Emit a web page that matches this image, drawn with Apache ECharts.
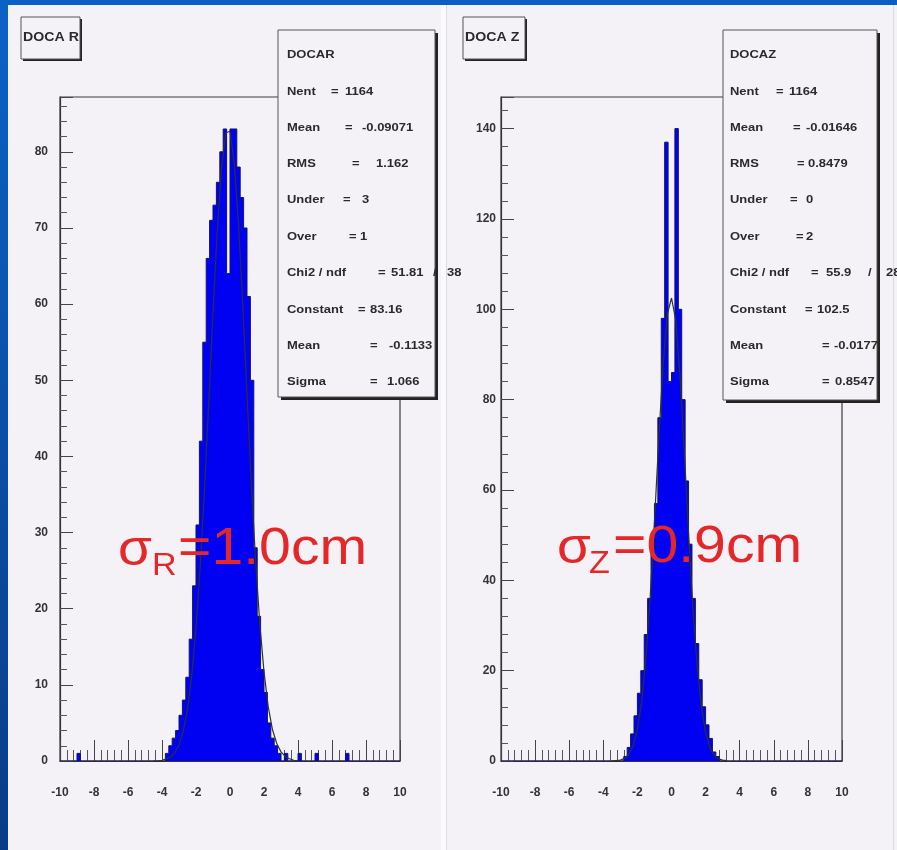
<!DOCTYPE html>
<html><head><meta charset="utf-8">
<script src="https://cdn.jsdelivr.net/npm/echarts@6/dist/echarts.min.js"></script>
<style>html,body{margin:0;padding:0;background:#f4f2f7}#c{width:897px;height:850px}</style>
</head><body><div id="c"></div>
<script>
// ---- DOCA R histogram (bin width 0.2 cm): bin centres and counts
const rCenters = [-8.9,-3.7,-3.5,-3.3,-3.1,-2.9,-2.7,-2.5,-2.3,-2.1,-1.9,-1.7,-1.5,-1.3,-1.1,-0.9,-0.7,-0.5,-0.3,-0.1,0.1,0.3,0.5,0.7,0.9,1.1,1.3,1.5,1.7,1.9,2.1,2.3,2.5,2.7,2.9,3.3,4.1,5.1,6.9];
const rCounts  = [1,1,2,3,4,6,8,11,16,23,31,42,55,66,71,73,76,80,83,64,83,83,78,74,70,61,50,28,19,12,9,5,3,2,1,1,1,1,1];
// ---- DOCA Z histogram
const zCenters = [-2.7,-2.5,-2.3,-2.1,-1.9,-1.7,-1.5,-1.3,-1.1,-0.9,-0.7,-0.5,-0.3,-0.1,0.1,0.3,0.5,0.7,0.9,1.1,1.3,1.5,1.7,1.9,2.1,2.3,2.5,2.7];
const zCounts  = [1,3,6,10,15,20,28,36,46,57,76,98,137,84,86,140,100,80,62,48,36,26,18,12,8,5,2,1];
// ---- fitted gaussian curves
const fitRx = [-4.5,-4.25,-4,-3.75,-3.5,-3.25,-3,-2.75,-2.5,-2.25,-2,-1.75,-1.5,-1.25,-1,-0.75,-0.5,-0.25,0,0.25,0.5,0.75,1,1.25,1.5,1.75,2,2.25,2.5,2.75,3,3.25,3.5,3.75,4];
const fitRy = [0.0,0.0,0.1,0.3,0.5,1.1,2.1,3.9,6.8,11.2,17.4,25.6,35.7,47.1,58.8,69.6,77.9,82.5,82.7,78.5,70.5,59.9,48.2,36.7,26.5,18.1,11.7,7.1,4.1,2.3,1.2,0.6,0.3,0.1,0.0];
const fitZx = [-3.5,-3.25,-3,-2.75,-2.5,-2.25,-2,-1.75,-1.5,-1.25,-1,-0.75,-0.5,-0.25,0,0.25,0.5,0.75,1,1.25,1.5,1.75,2,2.25,2.5,2.75,3,3.25];
const fitZy = [0.0,0.1,0.2,0.6,1.5,3.4,7.0,13.2,22.8,36.3,53.0,71.0,87.4,98.8,102.5,97.6,85.3,68.5,50.5,34.1,21.2,12.1,6.3,3.0,1.3,0.5,0.2,0.1];
// ---- axis ranges / tick steps
const xRange = [-10, 10], xStep = 2;
const rYMax = 87.2, rYStep = 10;
const zYMax = 147, zYStep = 20;
// ---- texts
const titleR = "DOCA R", titleZ = "DOCA Z";
const statsRName = "DOCAR", statsZName = "DOCAZ";
const statsLabels = ["Nent","Mean","RMS","Under","Over","Chi2 / ndf","Constant","Mean","Sigma"];
const statsRValues = ["1164","-0.09071","1.162","3","1","51.81","83.16","-0.1133","1.066"];
const statsZValues = ["1164","-0.01646","0.8479","0","2","55.9","102.5","-0.0177","0.8547"];
const chiRest = ["/", "38"], chiRestZ = ["/", "28"];
const sigmaR = ["σ","R","=1.0cm"], sigmaZ = ["σ","Z","=0.9cm"];

function histData(centers, counts){
  const m = {};
  centers.forEach((c,i)=>{ m[c.toFixed(1)] = counts[i]; });
  const d = [];
  for (let i=0;i<100;i++){
    const lo = Math.round((-10+0.2*i)*10)/10;
    d.push([lo, m[(lo+0.1).toFixed(1)] || 0]);
  }
  d.push([10,0]);
  return d;
}
function pairs(xs, ys){ return xs.map((x,i)=>[x, ys[i]]); }

const FONT = '"Liberation Sans", Arial, sans-serif';
const lbl = {color:'#333', fontWeight:'bold', fontSize:12, fontFamily:FONT};

function xAx(gi){
  return {type:'value', gridIndex:gi, min:xRange[0], max:xRange[1], interval:xStep,
    axisLine:{show:true, onZero:false, lineStyle:{color:'#333', width:1.2}},
    axisTick:{show:true, inside:true, length:21, lineStyle:{color:'#444'}},
    minorTick:{show:true, splitNumber:5, length:11, lineStyle:{color:'#555'}},
    splitLine:{show:false},
    axisLabel:Object.assign({margin:26}, lbl)};
}
function yAx(gi, max, step, margin){
  return {type:'value', gridIndex:gi, min:0, max:max, interval:step,
    axisLine:{show:true, onZero:false, lineStyle:{color:'#333', width:1.2}},
    axisTick:{show:true, inside:true, length:13, lineStyle:{color:'#444'}},
    minorTick:{show:true, splitNumber:5, length:7, lineStyle:{color:'#555'}},
    splitLine:{show:false},
    axisLabel:Object.assign({margin:margin, showMaxLabel:false}, lbl)};
}

const G = [];
// blue slide background strips
G.push({type:'rect', shape:{x:0,y:0,width:897,height:5}, style:{fill:'#0a60c2'}, z:1});
G.push({type:'rect', shape:{x:0,y:0,width:8,height:850}, style:{fill:new echarts.graphic.LinearGradient(0,0,0,1,[{offset:0,color:'#0b62c6'},{offset:1,color:'#0a3c86'}])}, z:1});
// pad separators
G.push({type:'rect', shape:{x:441,y:5,width:5,height:845}, style:{fill:'#fbfafc'}, z:1});
G.push({type:'line', shape:{x1:446.5,y1:5,x2:446.5,y2:850}, style:{stroke:'#dddbe1', lineWidth:1}, z:1});
G.push({type:'line', shape:{x1:893.5,y1:5,x2:893.5,y2:850}, style:{stroke:'#dddbe1', lineWidth:1}, z:1});

function box(x,y,w,h,sh){
  G.push({type:'rect', shape:{x:x+sh,y:y+sh,width:w,height:h}, style:{fill:'#222'}, z:100});
  G.push({type:'rect', shape:{x:x,y:y,width:w,height:h}, style:{fill:'#f4f2f7', stroke:'#555', lineWidth:1}, z:101});
}
function t(x,y,s,size,opts){
  opts = opts || {};
  G.push({type:'text', x:x, y:y, scaleX:opts.sx||1.18, z:opts.z||102,
    style:{text:s, font:(opts.w||'bold')+' '+size+'px '+FONT, fill:opts.fill||'#2a2a2a', align:'left', verticalAlign:'middle'}});
}
// title boxes
box(21,17,59,42,2); t(23,38,titleR,12);
box(463,17,62,42,2); t(465,38,titleZ,12);
// stats boxes
const lineY = [92,128,164,200,237,273,310,346,382];
box(278,30,157,367,3);
t(287,55,statsRName,11);
const eqR = [331,345,352,343,349,378,358,370,370];
const valR = [345,362,376,362,360,391,370,389,387];
statsLabels.forEach((l,i)=>{ t(287,lineY[i],l,11); t(eqR[i],lineY[i],'=',11); t(valR[i],lineY[i],statsRValues[i],11); });
t(433,273,chiRest[0],11); t(447,273,chiRest[1],11);
box(723,30,154,370,3);
t(730,55,statsZName,11);
const eqZ = [776,793,797,790,796,811,805,822,822];
const valZ = [789,806,808,806,806,826,817,834,835];
statsLabels.forEach((l,i)=>{ t(730,lineY[i],l,11); t(eqZ[i],lineY[i],'=',11); t(valZ[i],lineY[i],statsZValues[i],11); });
t(868,273,chiRestZ[0],11); t(886,273,chiRestZ[1],11);
// red annotations
const red = {fill:'#e4282a', w:'normal', sx:1.1, z:120};
t(118,551,sigmaR[0],50,red); t(152,566,sigmaR[1],31,red); t(178,550,sigmaR[2],52,red);
t(557,549,sigmaZ[0],50,red); t(589,564,sigmaZ[1],31,red); t(613,548,sigmaZ[2],52,red);

const option = {
  backgroundColor:'#f4f2f7',
  animation:false,
  grid:[
    {left:60, top:97, width:340, height:664, show:true, borderColor:'#3a3a3a', borderWidth:1.2, backgroundColor:'transparent'},
    {left:501, top:97, width:341, height:664, show:true, borderColor:'#3a3a3a', borderWidth:1.2, backgroundColor:'transparent'}
  ],
  xAxis:[xAx(0), xAx(1)],
  yAxis:[yAx(0, rYMax, rYStep, 12), yAx(1, zYMax, zYStep, 5)],
  series:[
    {type:'line', xAxisIndex:0, yAxisIndex:0, data:histData(rCenters,rCounts), step:'end', symbol:'none',
      lineStyle:{color:'#12126a', width:1}, areaStyle:{color:'#0000f2', opacity:1}, z:2},
    {type:'line', xAxisIndex:0, yAxisIndex:0, data:pairs(fitRx,fitRy), symbol:'none', smooth:false,
      lineStyle:{color:'#2c3428', width:1.2}, z:3},
    {type:'line', xAxisIndex:1, yAxisIndex:1, data:histData(zCenters,zCounts), step:'end', symbol:'none',
      lineStyle:{color:'#12126a', width:1}, areaStyle:{color:'#0000f2', opacity:1}, z:2},
    {type:'line', xAxisIndex:1, yAxisIndex:1, data:pairs(fitZx,fitZy), symbol:'none', smooth:false,
      lineStyle:{color:'#2c3428', width:1.2}, z:3}
  ],
  graphic:G
};
const chart = echarts.init(document.getElementById('c'));
chart.setOption(option);
</script>
</body></html>
